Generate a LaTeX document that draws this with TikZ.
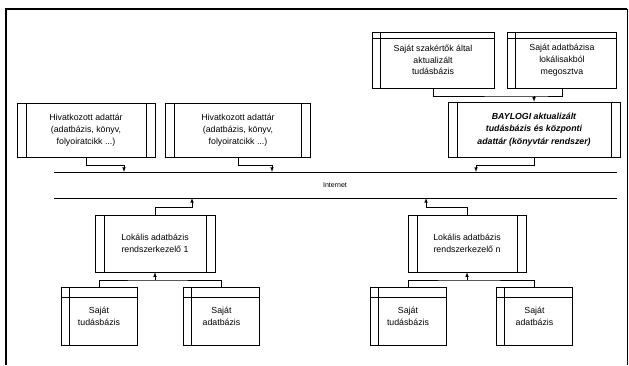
\documentclass[tikz,border=0pt]{standalone}
\usepackage{fontspec}
\setmainfont{Liberation Sans}
\usetikzlibrary{arrows, positioning}

\tikzset{
  proc/.style={draw, inner sep=0pt, align=center, font=\fontsize{7.5}{10.5}\selectfont,
    path picture={
      \draw ([xshift=2.7mm]path picture bounding box.north west) -- ([xshift=2.7mm]path picture bounding box.south west);
      \draw ([xshift=-2.7mm]path picture bounding box.north east) -- ([xshift=-2.7mm]path picture bounding box.south east);}},
  store/.style={draw, inner sep=0pt, align=center, font=\fontsize{7.5}{10}\selectfont,
    path picture={
      \draw ([xshift=2.4mm]path picture bounding box.north west) -- ([xshift=2.4mm]path picture bounding box.south west);
      \draw ([yshift=-#1]path picture bounding box.north west) -- ([yshift=-#1]path picture bounding box.north east);}},
  store/.default=1.8mm,
  arr/.style={-latex}
}

\begin{document}
\begin{tikzpicture}[x=0.3mm, y=-0.3mm]
\useasboundingbox (0,0) rectangle (629,365);
\draw[line width=1.2pt] (6,365) -- (6,9) -- (627,9);
\draw[line width=0.6pt] (627,9) -- (627,365);

% felso sor
\node[store, minimum width=36.6mm, minimum height=16.8mm] (szak) at (433,60) {Saját szakértők által\\aktualizált\\tudásbázis};
\node[store, minimum width=32.7mm, minimum height=16.8mm, right=3.9mm of szak] (lokmeg) {Saját adatbázisa\\lokálisakból\\megosztva};
\node[proc, minimum width=51.6mm, minimum height=16.5mm, font=\fontsize{7.5}{10.5}\selectfont\bfseries\itshape] (baylogi) at (534,129.5) {BAYLOGI aktualizált\\tudásbázis és központi\\adattár (könyvtár rendszer)};

\node[proc, minimum width=41.4mm, minimum height=16.2mm] (hiv1) at (86,130) {Hivatkozott adattár\\(adatbázis, könyv,\\folyoiratcikk ...)};
\node[proc, minimum width=43.5mm, minimum height=16.2mm, right=3mm of hiv1] (hiv2) {Hivatkozott adattár\\(adatbázis, könyv,\\folyoiratcikk ...)};

% internet
\coordinate (netTL) at (54,172);
\coordinate (netTR) at (617,172);
\coordinate (netBL) at (54,198);
\coordinate (netBR) at (617,198);
\draw (netTL) -- (netTR);
\draw (netBL) -- (netBR);
\node[font=\fontsize{6}{7}\selectfont] (net) at (335,185) {Internet};

% lokalis rendszerek
\node[proc, minimum width=36mm, minimum height=17.1mm] (lok1) at (155,243.5) {Lokális adatbázis\\rendszerkezelő 1};
\node[proc, minimum width=35.4mm, minimum height=17.1mm] (lokn) at (467,243.5) {Lokális adatbázis\\rendszerkezelő n};

\node[store=3mm, minimum width=22.8mm, minimum height=17.4mm] (tud1) at (99,316) {Saját\\tudásbázis};
\node[store=3mm, minimum width=22.8mm, minimum height=17.4mm, right=13.8mm of tud1] (adat1) {Saját\\adatbázis};
\node[store=3mm, minimum width=22.8mm, minimum height=17.4mm] (tudn) at (408,316) {Saját\\tudásbázis};
\node[store=3mm, minimum width=22.8mm, minimum height=17.4mm, right=15mm of tudn] (adatn) {Saját\\adatbázis};

% kapcsolatok
\coordinate (tj) at (534,96);
\draw (szak.south) |- (tj) -| (lokmeg.south);
\draw[arr] (tj) -- (baylogi.north);

\coordinate (h1net) at (124,172);
\coordinate (h2net) at (272,172);
\coordinate (bnet) at (476,172);
\draw[arr] (hiv1.south) -- ++(0,8) -| (h1net);
\draw[arr] (hiv2.south) -- ++(0,8) -| (h2net);
\draw[arr] (baylogi.south) -- ++(0,8) -| (bnet);

\coordinate (l1net) at (192,198);
\coordinate (lnnet) at (426,198);
\draw[arr] (lok1.north) -- ++(0,-8) -| (l1net);
\draw[arr] (lokn.north) -- ++(0,-8) -| (lnnet);

\coordinate (bj1) at (155,280);
\coordinate (bjn) at (467,280);
\draw (tud1.north) |- (bj1) -| (adat1.north);
\draw[arr] (bj1) -- (lok1.south);
\draw (tudn.north) |- (bjn) -| (adatn.north);
\draw[arr] (bjn) -- (lokn.south);
\end{tikzpicture}
\end{document}
